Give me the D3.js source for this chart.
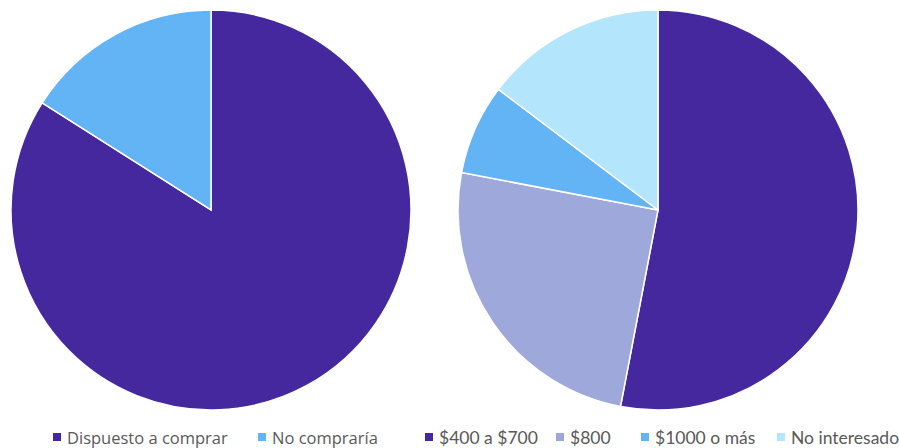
<!DOCTYPE html>
<html><head><meta charset="utf-8">
<script src="https://cdn.jsdelivr.net/npm/d3@7"></script>
<style>body{margin:0;background:#fff;}svg{display:block;}</style>
</head><body>
<svg id="c" width="899" height="448"></svg>
<script>
const leftCategories = ["Dispuesto a comprar", "No compraría"];
const leftValues = [84, 16];
const leftColors = ["#45289e", "#63b4f5"];

const rightCategories = ["$400 a $700", "$800", "$1000 o más", "No interesado"];
const rightValues = [53, 25, 7.3, 14.7];
const rightColors = ["#45289e", "#9fa8da", "#63b4f5", "#b3e5fc"];

const svg = d3.select("#c");
const pie = d3.pie().sort(null).value(d => d);
const arc = d3.arc().innerRadius(0).outerRadius(200);

function drawPie(cx, cy, values, colors) {
  const g = svg.append("g").attr("transform", `translate(${cx},${cy})`);
  g.selectAll("path").data(pie(values)).join("path")
    .attr("d", arc)
    .attr("fill", (d, i) => colors[i])
    .attr("stroke", "#fff").attr("stroke-width", 1.5);
}
drawPie(211, 210, leftValues, leftColors);
drawPie(658, 210, rightValues, rightColors);

function legend(items, colors, xs, font, size, tx) {
  items.forEach((t, i) => {
    const g = svg.append("g").attr("transform", `translate(${xs[i]},437)`);
    g.append("rect").attr("x", 0).attr("y", -4).attr("width", 8).attr("height", 8).attr("fill", colors[i]);
    g.append("text").attr("x", tx).attr("y", 6.5)
      .attr("font-family", font).attr("font-size", size).attr("fill", "#595959").text(t);
  });
}
legend(leftCategories, leftColors, [53, 258], "Open Sans, sans-serif", 16.5, 14);
legend(rightCategories, rightColors, [425, 556, 641, 777], "Lato, sans-serif", 17.5, 14);
</script>
</body></html>
